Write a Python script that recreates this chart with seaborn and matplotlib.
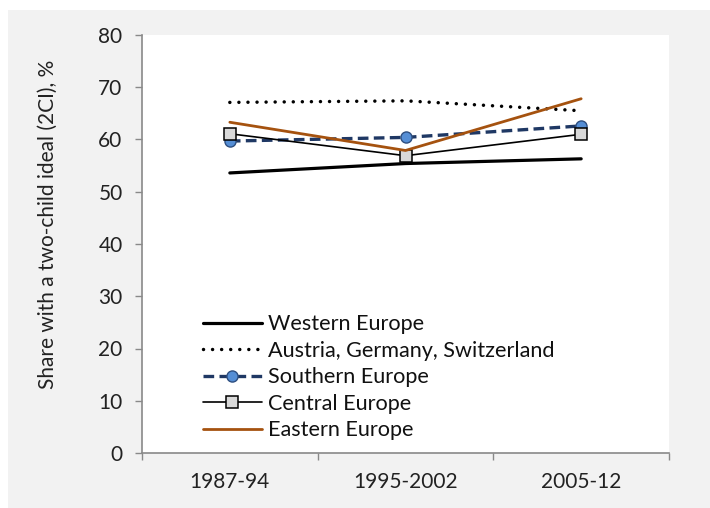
import matplotlib
matplotlib.use("Agg")
import matplotlib.pyplot as plt
from matplotlib.patches import Rectangle
from matplotlib.ticker import FixedLocator
import pandas as pd
import seaborn as sns

periods = ["1987-94", "1995-2002", "2005-12"]
western = [53.6, 55.4, 56.3]
dach = [67.1, 67.4, 65.5]
southern = [59.7, 60.4, 62.6]
central = [61.1, 56.9, 61.0]
eastern = [63.3, 57.9, 67.8]

series_names = ["Western Europe", "Austria, Germany, Switzerland",
                "Southern Europe", "Central Europe", "Eastern Europe"]
y_ticks = [0, 10, 20, 30, 40, 50, 60, 70, 80]
y_label = "Share with a two-child ideal (2CI), %"

styles = {
    "Western Europe": dict(color="black", lw=2.3, ls="-"),
    "Austria, Germany, Switzerland": dict(color="black", lw=2.5, ls=(0, (0.01, 2.6)),
                                          dash_capstyle="round"),
    "Southern Europe": dict(color="#1f3864", lw=2.4, ls=(0, (3.2, 1.6)), marker="o",
                            markersize=8, markerfacecolor="#558ed5",
                            markeredgecolor="#2e4f80", markeredgewidth=1.0),
    "Central Europe": dict(color="black", lw=1.2, ls="-", marker="s", markersize=8,
                           markerfacecolor="#d9d9d9", markeredgecolor="black",
                           markeredgewidth=1.1),
    "Eastern Europe": dict(color="#a5520f", lw=2.0, ls="-"),
}

df = pd.DataFrame({
    "period": periods * 5,
    "value": western + dach + southern + central + eastern,
    "series": [s for s in series_names for _ in periods],
})

sns.set_style("white")
plt.rcParams["font.family"] = ["Lato", "DejaVu Sans"]
FS = 15

fig = plt.figure(figsize=(7.10, 5.08), dpi=100, facecolor="white")
fig.patches.append(Rectangle((8 / 710, 0), 1, 1 - 10 / 508, transform=fig.transFigure,
                             facecolor="#f2f2f2", edgecolor="none", zorder=-10))
ax = fig.add_axes([142 / 710, 1 - 453 / 508, 527 / 710, 418 / 508])
ax.set_facecolor("white")

for name in series_names:
    sub = df[df["series"] == name]
    st = dict(styles[name])
    ls = st.pop("ls")
    sns.lineplot(data=sub, x="period", y="value", ax=ax, label=name,
                 sort=False, **st)
    ax.lines[-1].set_linestyle(ls)

ax.set_xlim(-0.5, 2.5)
ax.set_ylim(0, 80)
ax.set_yticks(y_ticks)
ax.set_xticks(range(len(periods)))
ax.set_xticklabels(periods)
ax.xaxis.set_minor_locator(FixedLocator([-0.5, 0.5, 1.5, 2.5]))
ax.tick_params(axis="x", which="major", length=0, pad=14, labelsize=FS, colors="#222222")
ax.tick_params(axis="x", which="minor", length=5, width=1, color="#898989",
               direction="out", bottom=True)
ax.tick_params(axis="y", length=5, width=1, color="#898989", direction="out",
               left=True, pad=9, labelsize=FS, labelcolor="#222222")
ax.set_xlabel("")
ax.set_ylabel(y_label, fontsize=FS, color="#222222", va="center")
ax.yaxis.set_label_coords(-0.178, 0.548)

for side in ["top", "right"]:
    ax.spines[side].set_visible(False)
for side in ["left", "bottom"]:
    ax.spines[side].set_color("#898989")
    ax.spines[side].set_linewidth(1.2)

leg = ax.legend(loc="lower left", bbox_to_anchor=(0.115, 0.03), frameon=False,
                fontsize=15.6, handlelength=2.75, handletextpad=0.25, labelspacing=0.3,
                borderpad=0, borderaxespad=0)
for t in leg.get_texts():
    t.set_color("#111111")

fig.savefig("out.png", dpi=100, facecolor=fig.get_facecolor())
